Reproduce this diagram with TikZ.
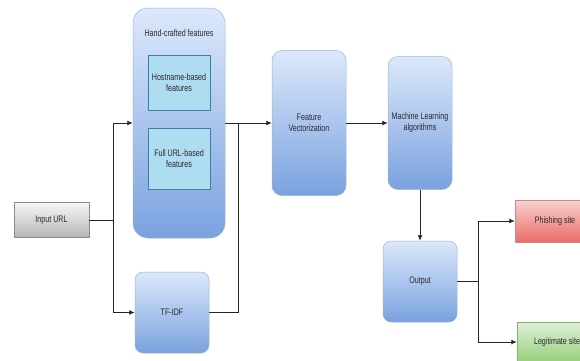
\documentclass[tikz,border=0pt]{standalone}
\usepackage{fontspec}
\setmainfont{Liberation Sans}[FakeStretch=0.75]
\usetikzlibrary{arrows.meta,calc}
\definecolor{bluetop}{HTML}{DCE8FB}
\definecolor{bluebot}{HTML}{7AA2DF}
\definecolor{blueline}{HTML}{9DB5DC}
\definecolor{cyanfill}{HTML}{AEDCF0}
\definecolor{cyanline}{HTML}{3C7FA8}
\definecolor{graytop}{HTML}{F6F6F6}
\definecolor{graybot}{HTML}{B5B5B5}
\definecolor{grayline}{HTML}{8A8A8A}
\definecolor{redtop}{HTML}{F9D2D0}
\definecolor{redbot}{HTML}{EA6B66}
\definecolor{redline}{HTML}{C98A88}
\definecolor{greentop}{HTML}{DDEFD9}
\definecolor{greenbot}{HTML}{98D07A}
\definecolor{greenline}{HTML}{88B26E}
\definecolor{txt}{HTML}{2B2B2B}
\definecolor{wire}{HTML}{262626}
\begin{document}
\begin{tikzpicture}[x=1pt,y=1pt,
  font=\fontsize{9.5}{11}\selectfont, text=txt,
  bluebox/.style={draw=blueline, line width=0.5pt, top color=bluetop, bottom color=bluebot, rounded corners=#1, align=center, inner sep=1pt},
  bluebox/.default=9pt,
  innerbox/.style={draw=cyanline, line width=0.6pt, fill=cyanfill, align=center, minimum width=62pt, inner sep=1pt},
  graybox/.style={draw=grayline, line width=0.5pt, top color=graytop, bottom color=graybot, align=center},
  redbox/.style={draw=redline, line width=0.5pt, top color=redtop, bottom color=redbot, align=center},
  greenbox/.style={draw=greenline, line width=0.5pt, top color=greentop, bottom color=greenbot, align=center},
  wirestyle/.style={draw=wire, line width=0.9pt},
  arr/.style={wirestyle, -{Latex[length=5.5pt,width=5pt]}}
]
\clip (0,0) rectangle (580,-360);
\fill[white] (0,0) rectangle (580,-360);

% nodes
\node[graybox, minimum width=75pt, minimum height=35pt] (input) at (51.5,-220) {Input URL};
\node[bluebox=15pt, minimum width=92pt, minimum height=230pt] (hand) at (179,-123) {};
\node (handtitle) at (179,-33) {Hand-crafted features};
\node[innerbox, minimum height=55pt] (host) at (179,-82.5) {Hostname-based\\features};
\node[innerbox, minimum height=61pt] (full) at (179,-158.5) {Full URL-based\\features};
\node[bluebox=8pt, minimum width=74pt, minimum height=81pt] (tfidf) at (172,-312.5) {TF-IDF};
\node[bluebox=10pt, minimum width=74pt, minimum height=145pt] (fv) at (309,-123) {Feature\\Vectorization};
\node[bluebox=10pt, minimum width=64pt, minimum height=133pt] (ml) at (420,-123) {Machine Learning\\algorithms};
\node[bluebox=8pt, minimum width=74pt, minimum height=81pt] (out) at (420,-281.5) {Output};
\node[redbox, minimum width=80pt, minimum height=42pt] (phish) at (555,-221) {Phishing site};
\node[greenbox, minimum width=80pt, minimum height=40pt] (legit) at (557,-342) {Legitimate site};

% junctions
\coordinate (split) at (113,-220);
\coordinate (merge) at (238,-123);
\coordinate (osplit) at (478,-281.5);

% connectors
\draw[wirestyle] (input.east) -- (split);
\draw[arr] (split) |- (hand.west);
\draw[arr] (split) |- (tfidf.west);
\draw[arr] (hand.east) -- (fv.west);
\draw[wirestyle] (tfidf.east) -| (merge);
\draw[arr] (fv.east) -- (ml.west);
\draw[arr] (ml.south) -- (out.north);
\draw[wirestyle] (out.east) -- (osplit);
\draw[arr] (osplit) |- (phish.west);
\draw[arr] (osplit) |- (legit.west);
\end{tikzpicture}
\end{document}
